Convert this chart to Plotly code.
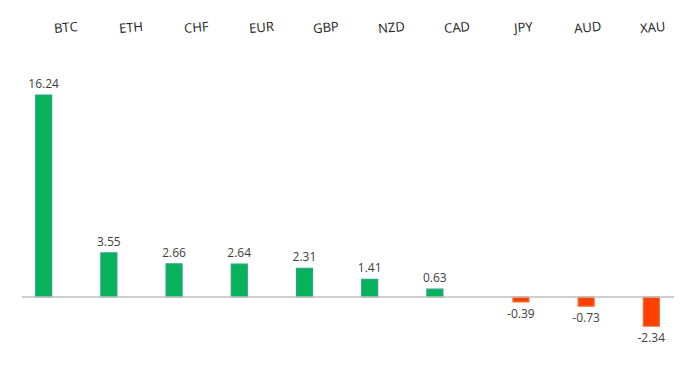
import plotly.graph_objects as go

categories = ["BTC", "ETH", "CHF", "EUR", "GBP", "NZD", "CAD", "JPY", "AUD", "XAU"]
values = [16.24, 3.55, 2.66, 2.64, 2.31, 1.41, 0.63, -0.39, -0.73, -2.34]

pos_vals = [v if v > 0 else None for v in values]
neg_vals = [v if v < 0 else None for v in values]
pos_text = [f"{v:.2f}" if v > 0 else "" for v in values]
neg_text = [f"{v:.2f}" if v < 0 else "" for v in values]

font_family = "Open Sans, Noto Sans, sans-serif"
text_color = "#404040"

fig = go.Figure()
fig.add_trace(go.Bar(
    x=categories, y=pos_vals, text=pos_text, textposition="outside",
    width=0.245, offset=-0.29, constraintext="none",
    marker=dict(color="#07b25a", line=dict(color="#26a487", width=1.2)),
    textfont=dict(size=12, color=text_color, family=font_family),
    cliponaxis=False, showlegend=False,
))
fig.add_trace(go.Bar(
    x=categories, y=neg_vals, text=neg_text, textposition="outside",
    width=0.245, offset=0.03, constraintext="none",
    marker=dict(color="#ff4000", line=dict(color="#f26a2a", width=1.2)),
    textfont=dict(size=12, color=text_color, family=font_family),
    cliponaxis=False, showlegend=False,
))

for c in categories:
    fig.add_annotation(
        x=c, y=1, yref="paper", yanchor="bottom", xshift=11, yshift=1,
        text=c, showarrow=False, textangle=-5,
        font=dict(size=13, color="#1a1a1a", family=font_family),
    )

fig.update_layout(
    width=698, height=370,
    margin=dict(l=22, r=24, t=40, b=20, autoexpand=False),
    paper_bgcolor="white", plot_bgcolor="white",
    barmode="overlay",
    font=dict(family=font_family, size=12, color=text_color),
    xaxis=dict(showticklabels=False, showgrid=False, zeroline=False, showline=False,
               range=[-0.5, 9.5]),
    yaxis=dict(visible=False, range=[-4.26, 20.66], zeroline=True),
    shapes=[dict(type="line", xref="paper", yref="y", x0=0, x1=1, y0=0, y1=0,
                 line=dict(color="#bfbfbf", width=1.5))],
)

fig.write_html("out.html", config={"displayModeBar": False},
               post_script="document.body.style.margin='0';")
